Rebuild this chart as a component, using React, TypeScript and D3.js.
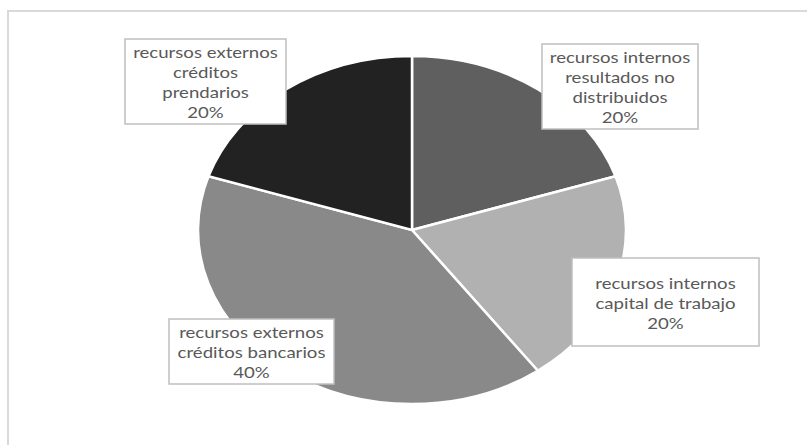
import React from "react";
import * as d3 from "d3";

const categories = [
  "recursos internos resultados no distribuidos",
  "recursos internos capital de trabajo",
  "recursos externos créditos bancarios",
  "recursos externos créditos prendarios",
];
const values = [20, 20, 40, 20];
const labelLines = [
  ["recursos internos", "resultados no", "distribuidos"],
  ["recursos internos", "capital de trabajo"],
  ["recursos externos", "créditos bancarios"],
  ["recursos externos", "créditos", "prendarios"],
];
const colors = ["#5f5f5f", "#b1b1b1", "#898989", "#222222"];

// label box layout [x0, y0, x1, y1]
const boxes = [
  [542, 44, 698, 129],
  [572, 258, 759, 346],
  [169, 319, 334, 384],
  [125, 39, 286, 124],
];

const W = 807;
const H = 445;
const cx = 412;
const cy = 230;
const rx = 214;
const ry = 174;

export default function App() {
  const total = d3.sum(values);
  const pie = d3
    .pie<number>()
    .sort(null)
    .value((d) => d)(values);
  const arc = d3.arc<d3.PieArcDatum<number>>().innerRadius(0).outerRadius(ry);
  const fmt = d3.format(".0%");
  const lineH = 20;
  const sx = 1.2;

  return (
    <svg
      width={W}
      height={H}
      style={{ position: "absolute", left: 0, top: 0, background: "#fff" }}
    >
      <rect x={0} y={0} width={W} height={H} fill="#fff" />
      <path d={`M8,${H} V11 H${W}`} fill="none" stroke="#d9d9d9" strokeWidth={2} />
      <g transform={`translate(${cx},${cy}) scale(${rx / ry},1)`}>
        {pie.map((p, i) => (
          <path
            key={categories[i]}
            d={arc(p) || ""}
            fill={colors[i]}
            stroke="#fff"
            strokeWidth={2.5}
            vectorEffect="non-scaling-stroke"
          />
        ))}
      </g>
      {boxes.map((b, i) => {
        const lines = [...labelLines[i], fmt(values[i] / total)];
        const mx = (b[0] + b[2]) / 2;
        const my = (b[1] + b[3]) / 2;
        return (
          <g key={categories[i]}>
            <rect
              x={b[0]}
              y={b[1]}
              width={b[2] - b[0]}
              height={b[3] - b[1]}
              fill="#fff"
              stroke="#bfbfbf"
              strokeWidth={1.5}
            />
            <g transform={`translate(${mx},${my}) scale(${sx},1)`}>
              {lines.map((t, j) => (
                <text
                  key={j}
                  x={0}
                  y={(j - (lines.length - 1) / 2) * lineH + 1}
                  textAnchor="middle"
                  dominantBaseline="central"
                  fontFamily="Lato, 'Open Sans', sans-serif"
                  fontSize={15.5}
                  fill="#595959"
                >
                  {t}
                </text>
              ))}
            </g>
          </g>
        );
      })}
    </svg>
  );
}
